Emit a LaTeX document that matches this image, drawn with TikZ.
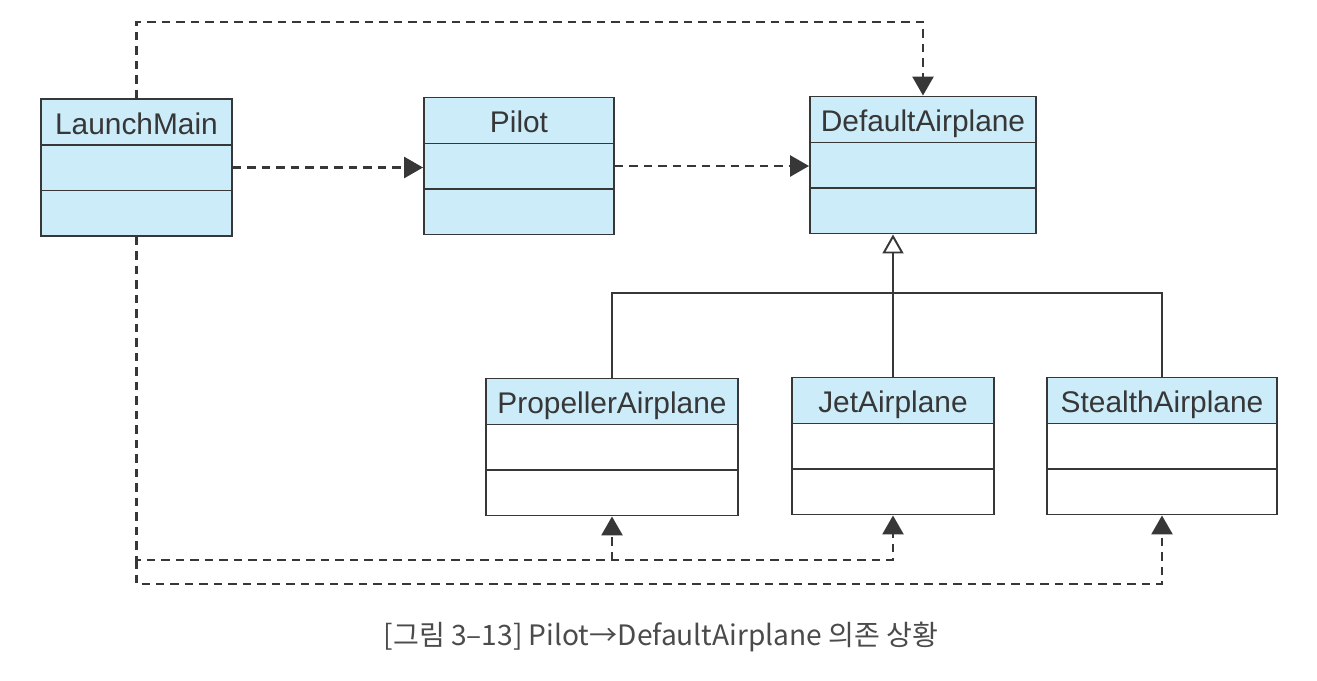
\documentclass[tikz,border=0pt]{standalone}
\usepackage{fontspec}
\setmainfont{Liberation Sans}
\newfontfamily\krfont{Noto Sans CJK KR}
\usetikzlibrary{arrows.meta}
\definecolor{boxblue}{RGB}{204,236,250}
\definecolor{linegray}{RGB}{55,55,55}
\definecolor{captiongray}{RGB}{75,75,75}
\begin{document}
\begin{tikzpicture}[line join=miter, >={Triangle[length=0.38cm, width=0.42cm]}]
	\useasboundingbox (0,0) rectangle (26.34,-13.62);
	\tikzset{
		classbox/.style={draw=linegray, line width=1.1pt, fill=#1, inner sep=0pt,
			minimum height=2.74cm,
			path picture={
				\fill[boxblue] (path picture bounding box.north west) rectangle ([yshift=-0.92cm]path picture bounding box.north east);
				\draw[linegray, line width=1.1pt] ([yshift=-0.92cm]path picture bounding box.north west) -- ([yshift=-0.92cm]path picture bounding box.north east);
				\draw[linegray, line width=1.1pt] ([yshift=-1.83cm]path picture bounding box.north west) -- ([yshift=-1.83cm]path picture bounding box.north east);
			}},
		classname/.style={anchor=base, inner sep=0pt, text=linegray, font=\fontsize{17}{20}\selectfont},
		dep/.style={->, linegray, line width=1.6pt, dash pattern=on 0.17cm off 0.12cm},
		inherit/.style={linegray, line width=1.1pt}
	}
	% 1. Các lớp (class boxes)
	\foreach \n/\x/\y/\w/\c/\t in {launch/2.73/-3.35/3.82/boxblue/LaunchMain,
		pilot/10.38/-3.32/3.80/boxblue/Pilot,
		default/18.46/-3.30/4.52/boxblue/DefaultAirplane,
		prop/12.24/-8.94/5.04/white/PropellerAirplane,
		jet/17.86/-8.92/4.04/white/JetAirplane,
		stealth/23.24/-8.92/4.60/white/StealthAirplane} {
		\node[classbox=\c, minimum width=\w cm] (\n) at (\x,\y) {};
		\node[classname] (\n-name) at ([yshift=-0.72cm]\n.north) {\t};
	}
	% 2. Quan hệ kế thừa
	\coordinate (tree) at (0,-5.86);
	\draw[inherit] (prop.north) |- (tree -| stealth.north) -- (stealth.north);
	\draw[inherit, -{Triangle[open, length=0.38cm, width=0.42cm, fill=white]}] (jet.north) -- (jet.north |- default.south);
	% 3. Quan hệ phụ thuộc
	\coordinate (topline) at (0,-0.44);
	\coordinate (busA) at (0,-11.2);
	\coordinate (busB) at (0,-11.68);
	\draw[dep] (launch.north) |- (topline -| default.north) -- (default.north);
	\draw[dep] (launch.east) -- (launch.east -| pilot.west);
	\draw[dep] (pilot.east) -- (pilot.east -| default.west);
	\draw[dep] (launch.south) |- (busA -| jet.south) -- (jet.south);
	\draw[dep] (busA -| prop.south) -- (prop.south);
	\draw[dep] (launch.south |- busA) |- (busB -| stealth.south) -- (stealth.south);
	% 4. Chú thích
	\node[text=captiongray, font=\krfont\fontsize{16}{19}\selectfont] (caption) at (13.22,-12.74) {[그림 3–13] Pilot→DefaultAirplane 의존 상황};
\end{tikzpicture}
\end{document}
